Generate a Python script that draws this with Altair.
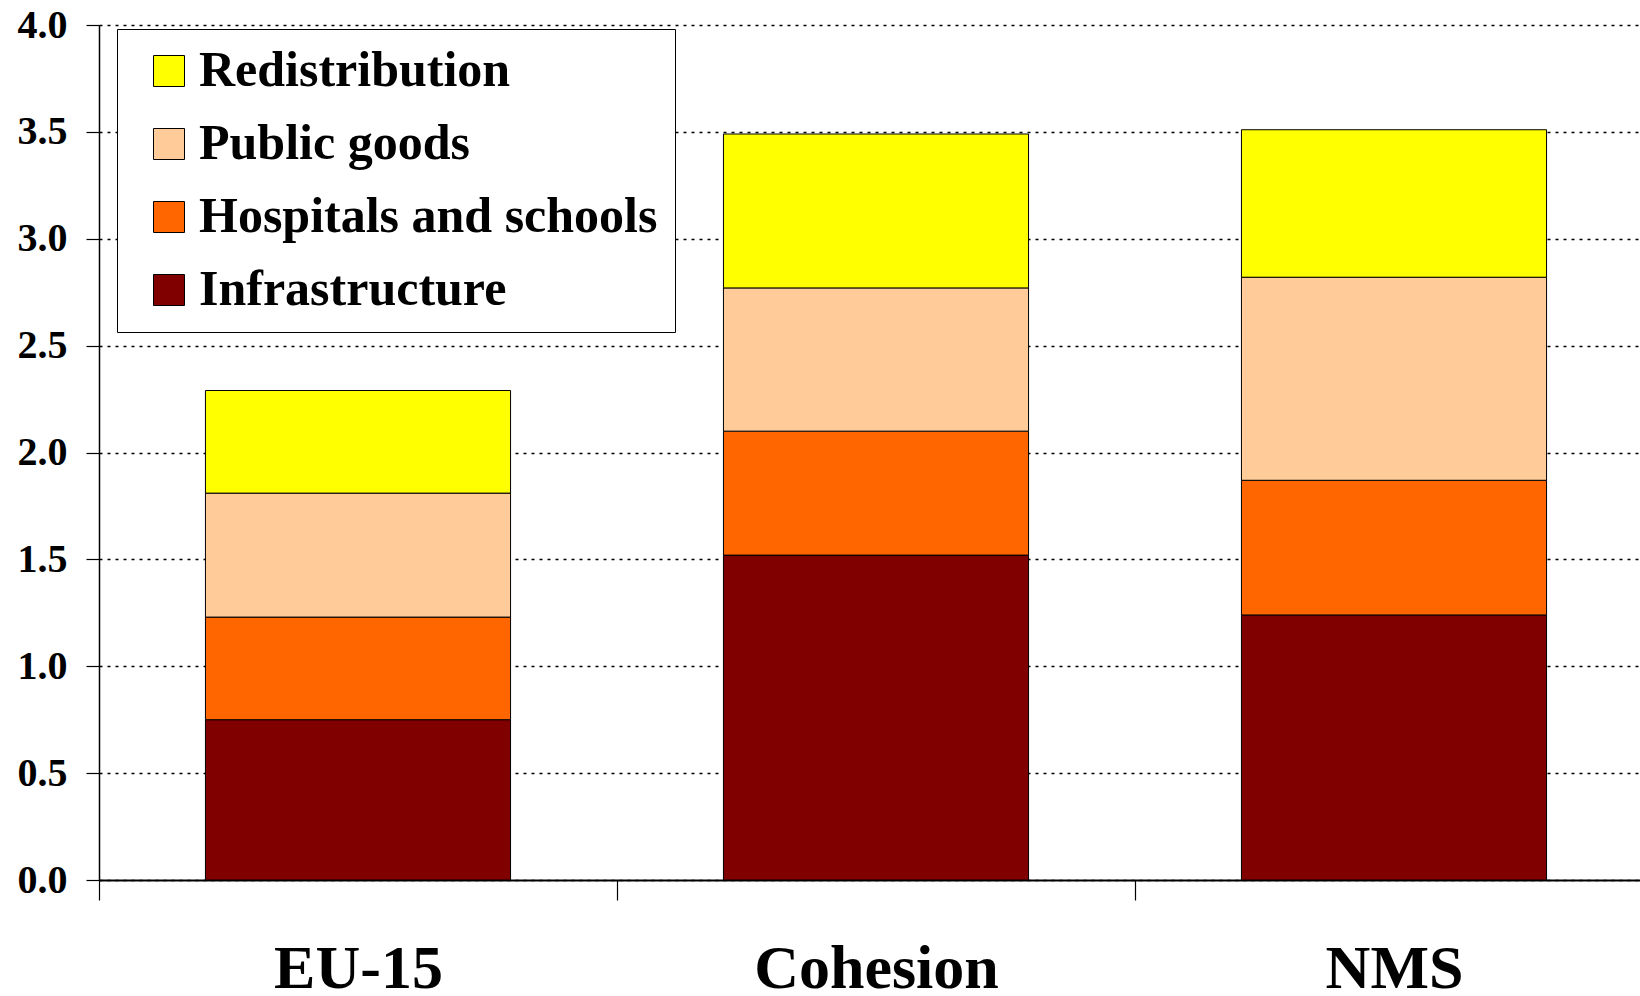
import altair as alt
import pandas as pd

# Country groups and spending components
regions = ["EU-15", "Cohesion", "NMS"]
components = ["Redistribution", "Public goods", "Hospitals and schools", "Infrastructure"]
component_colors = ["#FFFF00", "#FFCC99", "#FF6600", "#800000"]

# Segment sizes per group (stacked from the bottom: infrastructure first)
infrastructure = [0.75, 1.52, 1.24]
hospitals_schools = [0.48, 0.58, 0.63]
public_goods = [0.58, 0.67, 0.95]
redistribution = [0.48, 0.72, 0.69]

y_ticks = [0.0, 0.5, 1.0, 1.5, 2.0, 2.5, 3.0, 3.5, 4.0]

series = {
    "Infrastructure": infrastructure,
    "Hospitals and schools": hospitals_schools,
    "Public goods": public_goods,
    "Redistribution": redistribution,
}
rows = []
for rank, (comp, vals) in enumerate(series.items()):
    for region, v in zip(regions, vals):
        rows.append({"region": region, "component": comp, "value": v, "rank": rank})
df = pd.DataFrame(rows)

FONT = "Liberation Serif"

chart = (
    alt.Chart(df)
    .mark_bar(stroke="black", strokeWidth=1, width=alt.RelativeBandSize(0.589))
    .encode(
        x=alt.X(
            "region:N",
            sort=regions,
            scale=alt.Scale(range=[0, 1554], paddingInner=0, paddingOuter=0),
            axis=alt.Axis(
                title=None,
                labelAngle=0,
                tickBand="extent",
                tickSize=20,
                tickColor="black",
                tickWidth=1.2,
                domainColor="black",
                domainWidth=2,
                labelFont=FONT,
                labelFontSize=62,
                labelFontWeight="bold",
                labelColor="black",
                labelLimit=1000,
                labelPadding=38,
            ),
        ),
        y=alt.Y(
            "value:Q",
            stack="zero",
            scale=alt.Scale(domain=[0, 4], nice=False),
            axis=alt.Axis(
                title=None,
                values=y_ticks,
                format=".1f",
                grid=True,
                gridColor="black",
                gridDash=[3, 5],
                gridWidth=1.6,
                gridOpacity=1,
                tickSize=13,
                tickColor="black",
                tickWidth=1.2,
                domainColor="black",
                domainWidth=1.5,
                labelFont=FONT,
                labelFontSize=40,
                labelFontWeight="bold",
                labelColor="black",
                labelPadding=19,
            ),
        ),
        color=alt.Color(
            "component:N",
            scale=alt.Scale(domain=components, range=component_colors),
            legend=alt.Legend(
                title=None,
                orient="none",
                legendX=18,
                legendY=4,
                fillColor="white",
                strokeColor="black",
                padding=17,
                symbolType="square",
                symbolSize=961,
                symbolStrokeColor="black",
                symbolStrokeWidth=1,
                symbolOpacity=1,
                symbolOffset=10,
                labelFont=FONT,
                labelFontSize=50,
                labelFontWeight="bold",
                labelColor="black",
                labelLimit=1000,
                labelOffset=5,
                rowPadding=23,
            ),
        ),
        order=alt.Order("rank:Q", sort="ascending"),
    )
    .properties(
        width=1541,
        height=855,
        autosize=alt.AutoSizeParams(type="none"),
        padding={"left": 99, "top": 25, "right": 0, "bottom": 116},
    )
    .configure_view(stroke=None)
)

chart.save("out.html", embed_options={"renderer": "svg", "actions": False})
